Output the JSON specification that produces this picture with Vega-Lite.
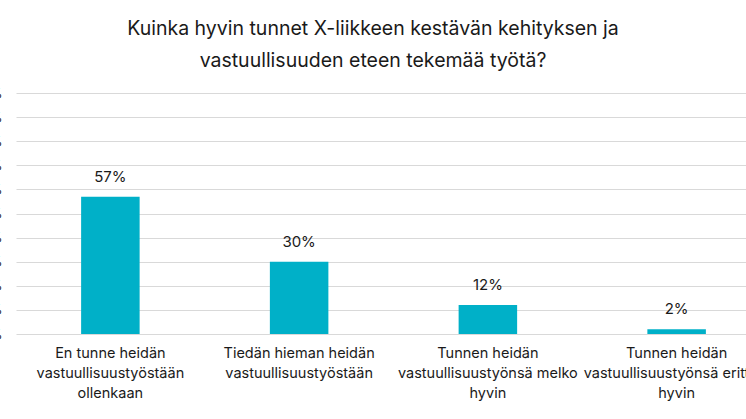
{
  "$schema": "https://vega.github.io/schema/vega-lite/v6.json",
  "autosize": {"type": "none"},
  "width": 730,
  "height": 241,
  "padding": {"left": 16, "top": 93, "right": 0, "bottom": 85},
  "background": "white",
  "config": {
    "view": {"stroke": null},
    "font": "Inter"
  },
  "title": {
    "text": ["Kuinka hyvin tunnet X-liikkeen kestävän kehityksen ja", "vastuullisuuden eteen tekemää työtä?"],
    "fontSize": 19.5,
    "fontWeight": "normal",
    "color": "#1a1a1a",
    "anchor": "middle",
    "lineHeight": 32,
    "offset": 16,
    "dx": -8,
    "font": "Inter"
  },
  "data": {
    "values": [
      {"vastaus": "En tunne heidän\nvastuullisuustyöstään\nollenkaan", "osuus": 0.57},
      {"vastaus": "Tiedän hieman heidän\nvastuullisuustyöstään", "osuus": 0.30},
      {"vastaus": "Tunnen heidän\nvastuullisuustyönsä melko\nhyvin", "osuus": 0.12},
      {"vastaus": "Tunnen heidän\nvastuullisuustyönsä erittäin\nhyvin", "osuus": 0.02}
    ]
  },
  "encoding": {
    "x": {
      "field": "vastaus",
      "type": "nominal",
      "sort": null,
      "scale": {"range": [0, 755], "paddingInner": 0, "paddingOuter": 0},
      "axis": {
        "title": null,
        "labelAngle": 0,
        "domain": false,
        "ticks": false,
        "labelExpr": "split(datum.label, '\\n')",
        "labelFontSize": 14.5,
        "labelLineHeight": 20,
        "labelColor": "#1a1a1a",
        "labelPadding": 12,
        "labelLimit": 400,
        "labelOverlap": false,
        "labelBound": false
      }
    },
    "y": {
      "field": "osuus",
      "type": "quantitative",
      "scale": {"domain": [0, 1]},
      "axis": {
        "title": null,
        "format": ".0%",
        "values": [0, 0.1, 0.2, 0.3, 0.4, 0.5, 0.6, 0.7, 0.8, 0.9, 1],
        "labelOverlap": false,
        "domain": false,
        "ticks": false,
        "grid": true,
        "gridColor": "#d9d9d9",
        "gridWidth": 1,
        "labelFontSize": 13,
        "labelColor": "#1a1a1a",
        "labelPadding": 14
      }
    }
  },
  "layer": [
    {
      "mark": {"type": "bar", "color": "#00B0C8", "width": {"band": 0.31}}
    },
    {
      "mark": {"type": "text", "dy": -12, "fontSize": 15, "color": "#1a1a1a", "baseline": "bottom"},
      "encoding": {
        "text": {"field": "osuus", "type": "quantitative", "format": ".0%"}
      }
    }
  ]
}
